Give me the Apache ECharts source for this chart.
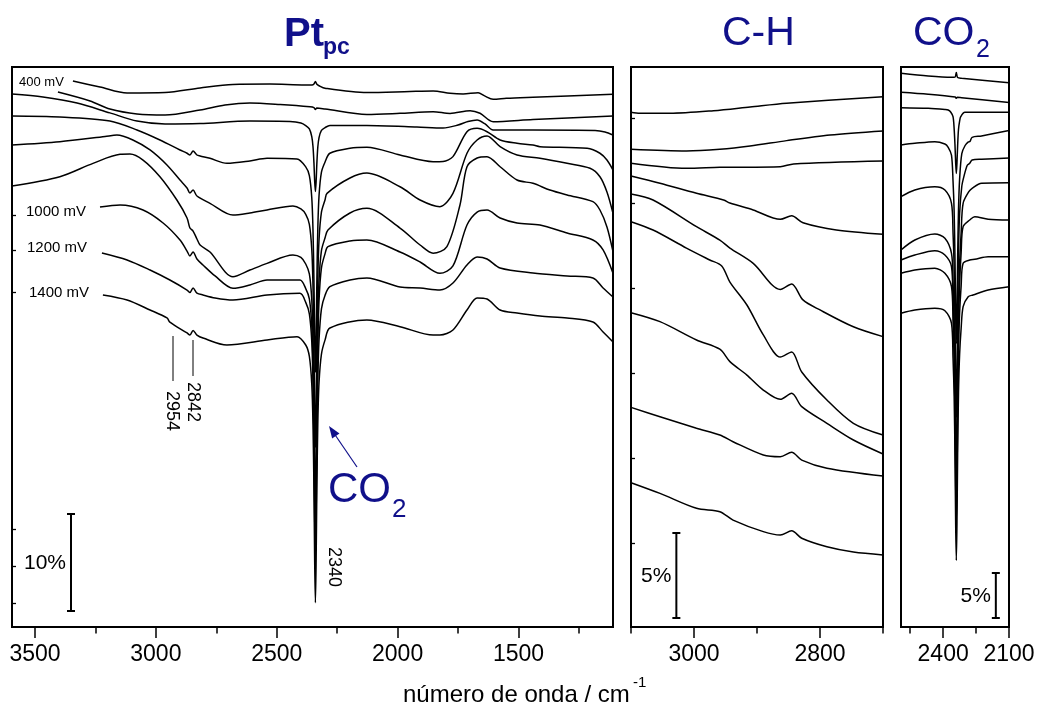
<!DOCTYPE html>
<html><head><meta charset="utf-8">
<script src="https://cdn.jsdelivr.net/npm/echarts@6/dist/echarts.min.js"></script>
<style>html,body{margin:0;padding:0;background:#fff}#c{width:1038px;height:709px}</style>
</head><body><div id="c"></div>
<script>
// ---------- axis ticks / labels ----------
const PT_TICKS = [3500, 3000, 2500, 2000, 1500];
const PT_MINOR = [3250, 2750, 2250, 1750, 1250];
const CH_TICKS = [3000, 2800];
const CH_MINOR = [3100, 2900, 2700];
const CO2_TICKS = [2400, 2100];
const CO2_MINOR = [2550, 2250];
const PT_YTICKS = [2.47, 6.29, 10.1, 34.54, 38.87, 42.47];
const CH_YTICKS = [4.94, 9.94, 14.94, 19.94, 24.94, 29.94];
const VOLT_LABELS = ['400 mV', '1000 mV', '1200 mV', '1400 mV'];
const PEAK_LABELS = ['2954', '2842', '2340'];

// ---------- panel 1 : Pt_pc, full range (wavenumber, %) ----------
const PT_1 = [[3343,56.29],[3231,55.67],[3119,55.05],[2962,55.10],[2817,55.57],[2681,55.93],[2528,55.98],[2383,55.88],[2354,55.88],[2346,55.98],[2340,56.24],[2334,55.95],[2325,55.8],[2300,55.54],[2127,55.10],[1949,55.21],[1853,55.26],[1783,55.02],[1729,54.95],[1667,55.08],[1640,54.75],[1605,54.40],[1550,54.5],[1440,54.61],[1109,54.92]];
const PT_2 = [[3405,55.15],[3272,54.23],[3190,53.40],[3078,52.89],[2962,52.78],[2817,53.30],[2714,53.81],[2611,54.02],[2486,53.87],[2362,53.64],[2346,53.55],[2340,53.35],[2334,53.5],[2300,53.40],[2127,52.84],[1990,52.96],[1853,53.12],[1783,52.94],[1700,53.23],[1659,52.96],[1605,52.09],[1440,52.32],[1109,52.68]];
const PT_3 = [[3595,54.95],[3467,54.64],[3326,54.02],[3190,53.00],[3078,52.16],[2962,51.86],[2817,51.91],[2611,52.16],[2445,52.11],[2400,51.95],[2380,51.69],[2365,51.35],[2355,50.56],[2350,49.53],[2346,47.83],[2343,45.97],[2340,44.9],[2337,45.92],[2334,47.78],[2330,49.48],[2325,50.46],[2315,51.2],[2300,51.49],[2280,51.70],[2127,51.70],[1920,51.55],[1812,51.44],[1750,51.75],[1709,52.11],[1671,52.27],[1638,51.86],[1605,51.24],[1440,51.24],[1183,51.19],[1142,51.03],[1109,50.72]];
const PT_4 = [[3595,52.68],[3397,52.58],[3190,52.16],[3078,51.24],[2983,50.21],[2900,49.18],[2871,48.84],[2859,48.66],[2846,49.07],[2830,48.66],[2817,48.56],[2776,48.32],[2706,47.80],[2611,48.04],[2540,48.32],[2416,48.25],[2380,47.44],[2365,46.54],[2355,44.26],[2350,40.96],[2346,35.53],[2343,29.66],[2340,26.25],[2337,29.71],[2334,35.63],[2330,41.11],[2325,44.46],[2315,46.89],[2300,47.94],[2280,48.84],[2197,49.36],[2127,49.46],[1990,48.66],[1853,47.97],[1812,47.99],[1771,48.49],[1713,51.06],[1671,51.41],[1630,51.06],[1576,50.21],[1506,49.87],[1440,49.69],[1411,49.52],[1216,49.35],[1163,48.84],[1134,48.14],[1109,47.11]];
const PT_5 = [[3595,49.69],[3397,50.03],[3210,50.57],[3161,50.72],[3095,50.21],[3024,49.18],[2954,47.63],[2900,46.08],[2871,45.26],[2859,44.74],[2846,45.05],[2830,44.43],[2776,43.68],[2681,42.47],[2611,42.68],[2540,42.99],[2433,43.40],[2400,43.1],[2380,42.55],[2365,41.52],[2355,38.92],[2350,35.22],[2346,29.1],[2343,22.4],[2340,18.5],[2337,22.7],[2334,29.6],[2330,35.97],[2325,39.92],[2315,42.77],[2300,44.05],[2292,44.71],[2197,46.29],[2127,46.80],[1990,45.39],[1907,44.02],[1825,43.33],[1771,44.71],[1713,48.84],[1671,50.21],[1630,50.62],[1576,49.52],[1506,48.66],[1411,48.32],[1299,47.80],[1204,47.29],[1163,46.42],[1134,44.85],[1109,42.65]];
const PT_6 = [[3595,45.46],[3397,46.42],[3260,47.80],[3148,48.73],[3107,48.76],[3053,48.14],[2983,46.42],[2913,44.02],[2871,42.17],[2859,41.13],[2846,40.82],[2830,40.0],[2817,39.38],[2776,38.66],[2681,36.11],[2611,36.80],[2540,37.49],[2433,38.35],[2400,38.1],[2380,37.42],[2365,36.4],[2355,33.75],[2350,29.9],[2346,23.52],[2343,16.53],[2340,12.55],[2337,17.03],[2334,24.52],[2330,31.45],[2325,35.75],[2315,38.8],[2300,40.12],[2288,40.93],[2197,42.68],[2127,43.16],[1990,41.13],[1907,39.38],[1853,38.53],[1796,39.21],[1742,43.51],[1713,47.45],[1671,48.35],[1630,48.48],[1576,47.45],[1506,46.08],[1440,45.74],[1370,45.05],[1299,44.54],[1192,43.85],[1163,42.99],[1134,41.24],[1109,38.69]];
const PT_7 = [[3231,43.30],[3148,43.51],[3053,42.99],[2970,41.65],[2900,39.90],[2871,38.76],[2859,38.25],[2846,38.66],[2830,37.94],[2805,37.32],[2755,36.19],[2681,34.92],[2611,35.26],[2540,35.77],[2404,35.77],[2380,34.89],[2365,33.83],[2355,31.07],[2350,27.07],[2346,20.45],[2343,13.18],[2340,9.05],[2337,13.68],[2334,21.45],[2330,28.92],[2325,33.67],[2315,37.03],[2300,38.49],[2288,39.21],[2197,39.79],[2127,39.90],[1990,38.66],[1907,37.63],[1825,36.46],[1771,37.22],[1713,41.44],[1671,42.78],[1630,42.99],[1576,42.16],[1506,41.65],[1411,41.44],[1299,40.62],[1192,39.90],[1150,38.87],[1109,36.46]];
const PT_8 = [[3223,38.56],[3119,37.84],[3024,36.80],[2942,35.77],[2871,34.74],[2859,34.48],[2846,34.95],[2830,34.43],[2805,34.23],[2755,33.92],[2681,33.71],[2540,34.23],[2404,34.40],[2380,33.47],[2365,32.29],[2355,29.43],[2350,25.3],[2346,18.56],[2343,11.16],[2340,6.9],[2337,11.16],[2334,18.61],[2330,25.4],[2325,29.58],[2315,32.8],[2300,34.2],[2280,35.08],[2197,35.77],[2127,35.98],[1990,35.05],[1907,34.95],[1825,34.74],[1771,35.46],[1713,37.32],[1671,38.14],[1630,37.94],[1576,37.01],[1440,36.49],[1299,36.19],[1192,35.98],[1150,34.95],[1109,34.02]];
const PT_9 = [[3219,34.23],[3119,33.71],[3024,32.68],[2954,31.86],[2942,31.44],[2871,30.31],[2859,30.10],[2846,30.57],[2830,30.10],[2805,29.79],[2706,29.07],[2540,29.59],[2416,29.93],[2380,29.07],[2365,27.89],[2355,25.03],[2350,20.9],[2346,14.16],[2343,6.76],[2340,2.5],[2337,6.81],[2334,14.21],[2330,21.05],[2325,25.18],[2315,28.14],[2300,29.6],[2280,30.82],[2127,31.65],[1990,30.96],[1853,30.10],[1825,30.10],[1771,30.62],[1713,32.68],[1671,33.92],[1630,33.81],[1576,32.68],[1506,32.37],[1411,32.06],[1299,31.86],[1192,31.44],[1150,30.41],[1109,29.38]];

// ---------- panel 2 : C-H region ----------
const CH_1 = [[3100,30.28],[3086,30.22],[3038,30.22],[2969,30.37],[2911,30.59],[2853,30.81],[2700,31.19]];
const CH_2 = [[3100,28.10],[3012,28.00],[2959,28.10],[2911,28.29],[2853,28.61],[2784,28.94],[2700,29.18]];
const CH_3 = [[3100,27.28],[3012,26.98],[2959,27.04],[2863,27.08],[2842,27.24],[2700,27.41]];
const CH_4 = [[3100,26.53],[3054,26.10],[2996,25.51],[2953,25.12],[2943,24.94],[2906,24.53],[2863,23.98],[2845,24.19],[2827,23.78],[2774,23.35],[2700,23.10]];
const CH_5 = [[3100,25.47],[3065,25.12],[2996,23.55],[2959,22.76],[2943,22.29],[2906,21.39],[2863,19.86],[2845,20.18],[2827,19.24],[2800,18.65],[2747,17.66],[2700,17.08]];
const CH_6 = [[3100,23.84],[3065,23.35],[3012,22.29],[2975,21.59],[2956,21.24],[2943,20.29],[2916,18.94],[2890,17.18],[2863,15.88],[2845,16.18],[2829,15.0],[2789,13.35],[2747,11.98],[2700,11.29]];
const CH_7 = [[3100,18.49],[3054,17.96],[2996,16.88],[2959,16.34],[2943,15.61],[2916,14.82],[2890,13.94],[2863,13.39],[2845,13.75],[2829,12.96],[2789,11.98],[2747,11.0],[2700,10.18]];
const CH_8 = [[3100,12.92],[3054,12.37],[2996,11.69],[2959,11.29],[2938,10.90],[2890,10.12],[2863,10.02],[2845,10.28],[2829,9.82],[2789,9.34],[2700,8.88]];
const CH_9 = [[3100,8.49],[3054,7.86],[2996,6.98],[2959,6.78],[2938,6.29],[2890,5.61],[2863,5.41],[2845,5.66],[2829,5.22],[2789,4.72],[2747,4.41],[2700,4.24]];

// ---------- panel 3 : CO2 region ----------
const CO2_1 = [[2592,61.52],[2468,61.22],[2362,61.08],[2346,61.1],[2340,61.6],[2334,61.05],[2316,60.97],[2100,60.46]];
const CO2_2 = [[2592,59.41],[2468,59.19],[2345,58.88],[2340,58.75],[2335,58.86],[2316,58.81],[2100,58.28]];
const CO2_3 = [[2592,57.7],[2468,57.63],[2392,57.5],[2377,57.44],[2365,57.2],[2355,56.7],[2350,55.4],[2346,53.5],[2343,51.6],[2340,50.4],[2337,51.6],[2334,53.5],[2330,55.3],[2325,56.2],[2320,56.7],[2301,57.19],[2100,57.19]];
const CO2_4 = [[2592,53.56],[2529,53.74],[2438,53.93],[2392,53.67],[2377,53.3],[2362,52.44],[2355,49.56],[2350,46.26],[2346,40.83],[2343,34.91],[2340,31.5],[2337,35.01],[2334,40.93],[2330,46.41],[2325,49.76],[2315,52.6],[2300,53.5],[2285,53.9],[2278,53.95],[2268,54.41],[2225,54.56],[2100,55.17]];
const CO2_5 = [[2592,47.81],[2529,48.56],[2438,48.92],[2392,48.56],[2362,47.08],[2355,43.82],[2350,40.07],[2346,33.9],[2343,27.2],[2340,23.3],[2337,27.9],[2334,35.1],[2330,41.77],[2325,45.92],[2315,48.97],[2305,50.1],[2290,51.3],[2279,51.52],[2268,51.89],[2225,51.97],[2100,52.1]];
const CO2_6 = [[2592,41.89],[2529,43.0],[2438,43.67],[2392,43.19],[2362,41.52],[2355,38.35],[2350,34.45],[2346,28.02],[2343,21.03],[2340,17.0],[2337,21.53],[2334,29.02],[2330,35.95],[2325,40.35],[2318,43.8],[2309,47.08],[2283,48.37],[2268,48.74],[2225,49.3],[2100,49.37]];
const CO2_7 = [[2592,40.78],[2529,41.33],[2438,41.81],[2392,41.33],[2362,40.03],[2355,36.17],[2350,32.12],[2346,25.45],[2343,18.18],[2340,14.0],[2337,18.68],[2334,26.45],[2330,33.62],[2325,38.17],[2318,41.6],[2309,44.48],[2279,45.22],[2256,45.59],[2195,45.3],[2100,45.22]];
const CO2_8 = [[2592,39.3],[2529,39.67],[2438,39.86],[2392,39.3],[2362,37.81],[2355,34.08],[2350,29.95],[2346,23.16],[2343,15.76],[2340,11.6],[2337,15.96],[2334,23.56],[2330,30.55],[2325,34.88],[2318,37.9],[2309,40.41],[2279,40.78],[2256,40.86],[2195,41.14],[2100,41.14]];
const CO2_9 = [[2592,34.86],[2529,35.22],[2438,35.41],[2392,35.14],[2362,33.74],[2355,29.88],[2350,25.75],[2346,18.96],[2343,11.56],[2340,7.4],[2337,11.66],[2334,19.16],[2330,26.05],[2325,30.28],[2318,33.2],[2309,35.59],[2286,36.7],[2264,36.89],[2195,37.44],[2100,37.81]];

// ---------- scale bars: [wavenumber, from %, to %] ----------
const BAR_PT = [3351, 1.65, 11.65];
const BAR_CH = [3028, 0.53, 5.53];
const BAR_CO2 = [2160, 1.0, 6.0];
const BAR_LABELS = ['10%', '5%', '5%'];

// ---------- build ----------
const FF = 'Liberation Sans, Arial, Helvetica, sans-serif';
const NAVY = '#10108a';
const chart = echarts.init(document.getElementById('c'), null, {renderer: 'canvas'});

const grids = [
  {left: 12, top: 67, width: 601, height: 560},
  {left: 631, top: 67, width: 252, height: 560},
  {left: 901, top: 67, width: 108, height: 560}
];
const xRanges = [[1109, 3595], [2700, 3100], [2100, 2592]];
const yMax = [560 / 9.7, 560 / 17, 560 / 9];
const majors = [PT_TICKS, CH_TICKS, CO2_TICKS];
const minors = [PT_MINOR, CH_MINOR, CO2_MINOR];
const yTicks = [PT_YTICKS, CH_YTICKS, []];

const xAxes = [], yAxes = [];
for (let g = 0; g < 3; g++) {
  xAxes.push({
    type: 'value', gridIndex: g, position: 'bottom', inverse: true,
    min: xRanges[g][0], max: xRanges[g][1],
    axisLine: {show: true, onZero: false, lineStyle: {color: '#000', width: 2}},
    axisTick: {show: true, inside: false, length: 11, customValues: majors[g], lineStyle: {color: '#000', width: 1.5}},
    axisLabel: {show: true, customValues: majors[g], formatter: v => String(v), fontSize: 23, fontFamily: FF, color: '#000', margin: 16},
    splitLine: {show: false}
  });
  xAxes.push({
    type: 'value', gridIndex: g, position: 'bottom', inverse: true,
    min: xRanges[g][0], max: xRanges[g][1],
    axisLine: {show: false, onZero: false},
    axisTick: {show: true, inside: false, length: 6.5, customValues: minors[g], lineStyle: {color: '#000', width: 1.5}},
    axisLabel: {show: false},
    splitLine: {show: false}
  });
  yAxes.push({
    type: 'value', gridIndex: g, min: 0, max: yMax[g],
    axisLine: {show: true, onZero: false, lineStyle: {color: '#000', width: 1.5}},
    axisTick: {show: yTicks[g].length > 0, inside: true, length: 4, customValues: yTicks[g], lineStyle: {color: '#000', width: 1.3}},
    axisLabel: {show: false},
    splitLine: {show: false}
  });
}

const panels = [
  [PT_1, PT_2, PT_3, PT_4, PT_5, PT_6, PT_7, PT_8, PT_9],
  [CH_1, CH_2, CH_3, CH_4, CH_5, CH_6, CH_7, CH_8, CH_9],
  [CO2_1, CO2_2, CO2_3, CO2_4, CO2_5, CO2_6, CO2_7, CO2_8, CO2_9]
];
const series = [];
panels.forEach((list, g) => {
  list.forEach(d => series.push({
    type: 'line', xAxisIndex: g * 2, yAxisIndex: g, data: d,
    symbol: 'none', smooth: 0.3, clip: true, silent: true,
    lineStyle: {color: '#000', width: 1.5}
  }));
});
[BAR_PT, BAR_CH, BAR_CO2].forEach((bar, g) => {
  series.push({
    type: 'custom', xAxisIndex: g * 2, yAxisIndex: g, data: [bar], silent: true, clip: false,
    renderItem: (params, api) => {
      const p1 = api.coord([api.value(0), api.value(1)]);
      const p2 = api.coord([api.value(0), api.value(2)]);
      const st = {stroke: '#000', lineWidth: 2};
      return {type: 'group', children: [
        {type: 'line', shape: {x1: p1[0], y1: p1[1], x2: p2[0], y2: p2[1]}, style: st},
        {type: 'line', shape: {x1: p1[0] - 4, y1: p1[1], x2: p1[0] + 4, y2: p1[1]}, style: st},
        {type: 'line', shape: {x1: p2[0] - 4, y1: p2[1], x2: p2[0] + 4, y2: p2[1]}, style: st},
        {type: 'text', x: p1[0] - 5, y: (p1[1] + p2[1]) / 2 + 1,
         style: {text: BAR_LABELS[g], align: 'right', verticalAlign: 'middle', fontSize: 21, fontFamily: FF, fill: '#000'}}
      ]};
    }
  });
});

function txt(t, x, y, size, opt) {
  opt = opt || {};
  return {type: 'text', x: x, y: y, rotation: opt.rot || 0, z: 100,
    style: {text: t, fontSize: size, fontFamily: FF, fontWeight: opt.bold ? 'bold' : 'normal',
      fill: opt.color || '#000', align: opt.align || 'left', verticalAlign: 'middle'}};
}
const graphic = [
  txt('Pt', 284, 35, 40, {bold: true, color: NAVY}),
  txt('pc', 323, 48, 23, {bold: true, color: NAVY}),
  txt('C-H', 722, 34, 41, {color: NAVY}),
  txt('CO', 913, 34, 41, {color: NAVY}),
  txt('2', 976, 50, 25, {color: NAVY}),
  txt('CO', 328, 490, 42, {color: NAVY}),
  txt('2', 392, 510, 26, {color: NAVY}),
  txt('número de onda / cm', 403, 695, 24),
  txt('-1', 633, 683, 15),
  txt(VOLT_LABELS[0], 19, 82, 13),
  txt(VOLT_LABELS[1], 26, 212, 15),
  txt(VOLT_LABELS[2], 27, 248, 15),
  txt(VOLT_LABELS[3], 29, 293, 15),
  txt(PEAK_LABELS[0], 172, 411, 18, {align: 'center', rot: -Math.PI / 2}),
  txt(PEAK_LABELS[1], 193, 402, 18, {align: 'center', rot: -Math.PI / 2}),
  txt(PEAK_LABELS[2], 334, 567, 18, {align: 'center', rot: -Math.PI / 2}),
  {type: 'line', z: 100, shape: {x1: 173, y1: 336, x2: 173, y2: 381}, style: {stroke: '#000', lineWidth: 1}},
  {type: 'line', z: 100, shape: {x1: 193, y1: 340, x2: 193, y2: 376}, style: {stroke: '#000', lineWidth: 1}},
  {type: 'line', z: 100, shape: {x1: 357, y1: 467, x2: 335.5, y2: 435.5}, style: {stroke: NAVY, lineWidth: 1.2}},
  {type: 'polygon', z: 100, shape: {points: [[329, 426], [339.5, 433.4], [332.1, 438.4]]}, style: {fill: NAVY}}
];

chart.setOption({
  animation: false,
  backgroundColor: '#fff',
  grid: grids.map(g => Object.assign({show: true, borderColor: '#000', borderWidth: 2, backgroundColor: 'transparent'}, g)),
  xAxis: xAxes,
  yAxis: yAxes,
  series: series,
  graphic: graphic
});
</script></body></html>
